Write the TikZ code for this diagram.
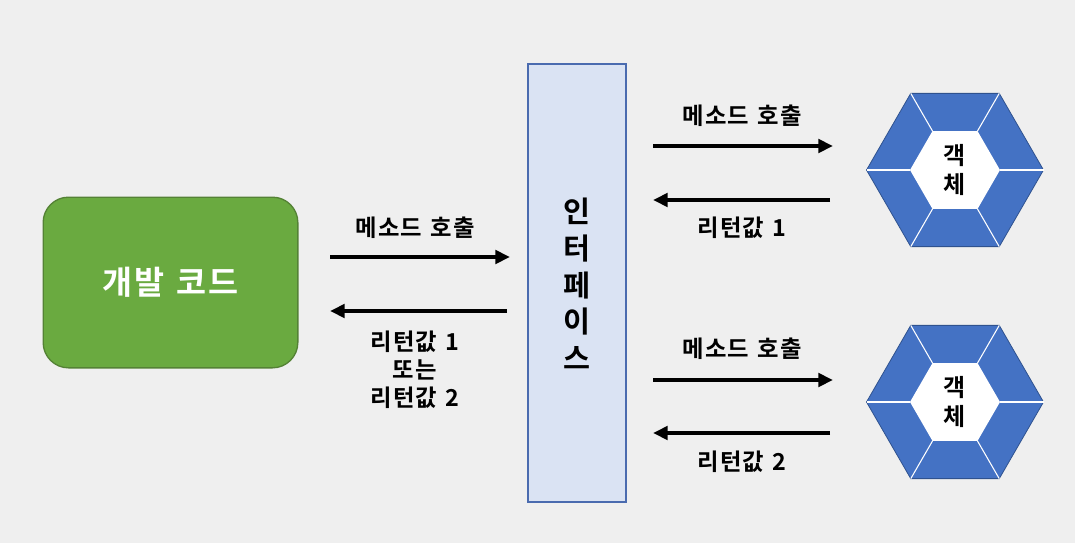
\documentclass[tikz,border=0pt]{standalone}
\usepackage{fontspec}
\setmainfont{Noto Sans CJK KR}[BoldFont={* Bold}]
\newfontfamily\kr{Noto Sans CJK KR Bold}
\newfontfamily\krs{Noto Sans CJK KR Bold}[LetterSpace=5,WordSpace=1.3]
\usetikzlibrary{arrows.meta}
\definecolor{bg}{HTML}{EFEFEF}
\definecolor{grn}{HTML}{6AAA40}
\definecolor{grnb}{HTML}{548235}
\definecolor{ifill}{HTML}{DAE3F3}
\definecolor{iborder}{HTML}{4A6BAF}
\definecolor{hexb}{HTML}{4472C4}
\definecolor{hexd}{HTML}{2F528F}
\tikzset{
  lbl/.style={font=\krs\fontsize{17.5}{21}\selectfont, text=black, align=center},
  arr/.style={line width=3pt, -{Triangle[length=11pt,width=10pt]}},
}
\begin{document}
\begin{tikzpicture}[x=0.75pt,y=-0.75pt]
\fill[bg] (0,0) rectangle (1075,543);
\useasboundingbox (0,0) rectangle (1075,543);
% dev code
\node[draw=grnb, fill=grn, line width=1pt, rounded corners=19pt, minimum width=191pt, minimum height=128pt, text=white, font=\krs\fontsize{24.5}{28}\selectfont] (dev) at (170.5,282.5) {개발 코드};
% interface
\node[draw=iborder, fill=ifill, line width=1pt, minimum width=73.5pt, minimum height=328.5pt] (intf) at (577,283) {};
\node[font=\kr\fontsize{22}{27.5}\selectfont, align=center] (intftext) at (577,284) {인\\터\\페\\이\\스};
% hexagons
\foreach \n/\cy in {h1/170, h2/402}{
  \begin{scope}[shift={(955,\cy)}]
    \fill[hexb, draw=hexd, line width=0.6pt] (0:88.5) -- (60:88.5) -- (120:88.5) -- (180:88.5) -- (240:88.5) -- (300:88.5) -- cycle;
    \foreach \a in {0,60,...,300}{
      \draw[white, line width=0.8pt] (\a:45) -- (\a:88.5);
    }
    \fill[white] (0:45) -- (60:45) -- (120:45) -- (180:45) -- (240:45) -- (300:45) -- cycle;
  \end{scope}
  \node[font=\kr\fontsize{18}{22}\selectfont, align=center, minimum size=60pt] (\n) at (955,\cy) {객\\체};
}
% left connectors
\coordinate (l1s) at (330,257); \coordinate (l1e) at (510,257);
\coordinate (l2s) at (507,311); \coordinate (l2e) at (330,311);
\draw[arr] (l1s) -- (l1e);
\draw[arr] (l2s) -- (l2e);
\node[lbl] (lc) at (415,228) {메소드 호출};
\node[lbl] (lr) at (415,370) {리턴값 1\\또는\\리턴값 2};
% right top
\coordinate (r1s) at (653,146); \coordinate (r1e) at (833,146);
\coordinate (r2s) at (830,200); \coordinate (r2e) at (653,200);
\draw[arr] (r1s) -- (r1e);
\draw[arr] (r2s) -- (r2e);
\node[lbl] (rc1) at (742,116) {메소드 호출};
\node[lbl] (rr1) at (742,228) {리턴값 1};
% right bottom
\coordinate (r3s) at (653,380); \coordinate (r3e) at (833,380);
\coordinate (r4s) at (830,433); \coordinate (r4e) at (653,433);
\draw[arr] (r3s) -- (r3e);
\draw[arr] (r4s) -- (r4e);
\node[lbl] (rc2) at (742,349) {메소드 호출};
\node[lbl] (rr2) at (742,462) {리턴값 2};
\end{tikzpicture}
\end{document}
